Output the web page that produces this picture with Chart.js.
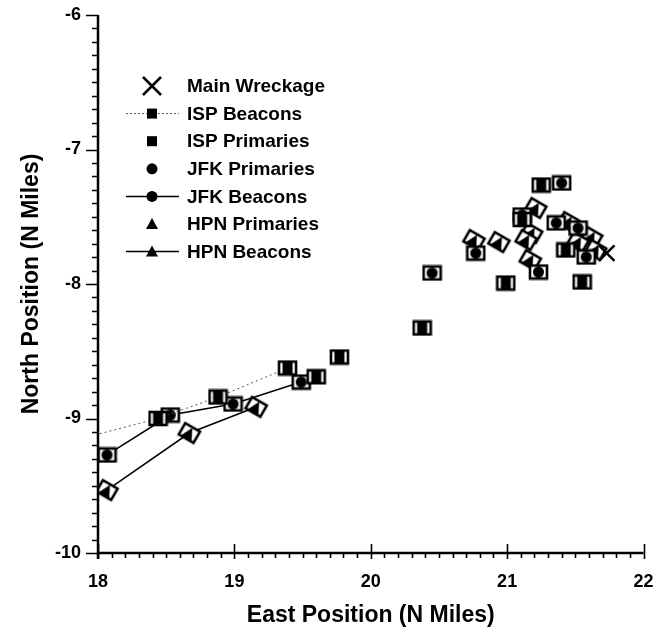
<!DOCTYPE html>
<html>
<head>
<meta charset="utf-8">
<script src="https://cdn.jsdelivr.net/npm/chart.js@4/dist/chart.umd.min.js"></script>
<style>
  body { margin: 0; background: #fff; }
  #wrap { width: 657px; height: 636px; }
</style>
</head>
<body>
<div id="wrap"><canvas id="chart" width="657" height="636"></canvas></div>
<script>
// tick labels
const xTicks = [18, 19, 20, 21, 22];
const yTicks = [-10, -9, -8, -7, -6];

// series values, [east, north]
const mainWreckage = [[21.73, -7.77]];
const ispBeacons = [[17.8, -9.17], [18.44, -9.0], [18.88, -8.84], [19.39, -8.625]];
const ispPrimaries = [[19.6, -8.69], [19.77, -8.543], [20.377, -8.327], [20.99, -7.993],
  [21.25, -7.264], [21.55, -7.985], [21.43, -7.747], [21.11, -7.52]];
const jfkPrimaries = [[20.45, -7.918], [20.77, -7.77], [21.11, -7.487], [21.4, -7.249],
  [21.36, -7.546], [21.52, -7.584], [21.58, -7.799], [21.23, -7.911]];
const jfkBeacons = [[18.066, -9.271], [18.53, -8.974], [18.99, -8.892], [19.49, -8.729]];
const hpnPrimaries = [[20.757, -7.673], [20.94, -7.688], [21.17, -7.822], [21.21, -7.435],
  [21.18, -7.621], [21.14, -7.673], [21.45, -7.539], [21.62, -7.651], [21.52, -7.688], [21.65, -7.747]];
const hpnBeacons = [[18.066, -9.532], [18.67, -9.108], [19.16, -8.914]];

const FONT = "'Liberation Sans', Arial, sans-serif";

function pts(arr) {
    return arr.map(p => ({ x: p[0], y: p[1] }));
}

// open box with a filled marker inside, as on the plotted tracks
function makeMarker(shape) {
    const c = document.createElement('canvas');
    c.width = 21; c.height = 17;
    const g = c.getContext('2d');
    g.fillStyle = '#fff';
    g.strokeStyle = '#000';
    g.lineWidth = 2.6;
    g.fillRect(2, 2, 17, 13);
    g.strokeRect(2, 2, 17, 13);
    g.fillStyle = '#000';
    g.beginPath();
    if (shape === 'rect') {
        g.rect(5.5, 3, 10, 11);
    } else if (shape === 'circle') {
        g.arc(10.5, 8.5, 5.5, 0, Math.PI * 2);
    } else {
        g.moveTo(10.5, 2.5); g.lineTo(16.5, 14.5); g.lineTo(4.5, 14.5); g.closePath();
    }
    g.fill();
    return c;
}

const squareMark = makeMarker('rect');
const circleMark = makeMarker('circle');
const triMark = makeMarker('triangle');

const datasets = [
    { label: 'Main Wreckage', data: pts(mainWreckage), showLine: false, pointStyle: 'crossRot',
      pointRadius: 11, borderColor: '#000', borderWidth: 2.5, legendShape: 'cross' },
    { label: 'ISP Beacons', data: pts(ispBeacons), showLine: true, pointStyle: squareMark,
      borderColor: '#555', borderWidth: 1, borderDash: [2, 3], clip: 0, legendShape: 'rect', legendLine: 'dot' },
    { label: 'ISP Primaries', data: pts(ispPrimaries), showLine: false, pointStyle: squareMark,
      legendShape: 'rect' },
    { label: 'JFK Primaries', data: pts(jfkPrimaries), showLine: false, pointStyle: circleMark,
      legendShape: 'circle' },
    { label: 'JFK Beacons', data: pts(jfkBeacons), showLine: true, pointStyle: circleMark,
      borderColor: '#000', borderWidth: 1.5, legendShape: 'circle', legendLine: 'solid' },
    { label: 'HPN Primaries', data: pts(hpnPrimaries), showLine: false, pointStyle: triMark,
      pointRotation: 30, legendShape: 'triangle' },
    { label: 'HPN Beacons', data: pts(hpnBeacons), showLine: true, pointStyle: triMark,
      pointRotation: 30, borderColor: '#000', borderWidth: 1.5, legendShape: 'triangle', legendLine: 'solid' }
];

// axes with tick marks and the in-plot legend
const decorPlugin = {
    id: 'decor',
    afterDraw(chart) {
        const ctx = chart.ctx;
        const xs = chart.scales.x, ys = chart.scales.y;
        const area = chart.chartArea;
        ctx.save();
        ctx.strokeStyle = '#000';
        ctx.lineCap = 'butt';

        // axis lines
        ctx.lineWidth = 2.5;
        ctx.beginPath();
        ctx.moveTo(area.left, area.top);
        ctx.lineTo(area.left, area.bottom + 6);
        ctx.moveTo(area.left - 1, area.bottom);
        ctx.lineTo(area.right, area.bottom);
        ctx.stroke();

        // x ticks
        ctx.lineWidth = 1.6;
        ctx.beginPath();
        for (let i = 0; i <= 40; i++) {
            const v = 18 + i / 10;
            const px = Math.round(xs.getPixelForValue(v)) + 0.5;
            if (i % 10 === 0) {
                ctx.moveTo(px, area.bottom - 9);
                ctx.lineTo(px, area.bottom + 6);
            } else {
                ctx.moveTo(px, area.bottom);
                ctx.lineTo(px, area.bottom + 5);
            }
        }
        // y ticks
        for (let i = 0; i <= 40; i++) {
            const v = -10 + i / 10;
            const py = Math.round(ys.getPixelForValue(v)) + 0.5;
            if (i % 10 === 0) {
                ctx.moveTo(area.left - 12, py);
                ctx.lineTo(area.left, py);
            } else {
                ctx.moveTo(area.left - 6, py);
                ctx.lineTo(area.left, py);
            }
        }
        ctx.stroke();

        // legend
        const mx = 152, tx = 187;
        let y = 86;
        ctx.font = 'bold 19px ' + FONT;
        ctx.textBaseline = 'middle';
        ctx.textAlign = 'left';
        chart.data.datasets.forEach(ds => {
            ctx.strokeStyle = '#000';
            if (ds.legendLine) {
                ctx.lineWidth = ds.legendLine === 'dot' ? 1 : 1.5;
                ctx.strokeStyle = ds.legendLine === 'dot' ? '#555' : '#000';
                ctx.setLineDash(ds.legendLine === 'dot' ? [2, 2] : []);
                ctx.beginPath();
                ctx.moveTo(mx - 26, y);
                ctx.lineTo(mx + 27, y);
                ctx.stroke();
                ctx.setLineDash([]);
            }
            ctx.fillStyle = '#000';
            ctx.strokeStyle = '#000';
            ctx.beginPath();
            if (ds.legendShape === 'cross') {
                ctx.lineWidth = 2.5;
                ctx.moveTo(mx - 9, y - 9); ctx.lineTo(mx + 9, y + 9);
                ctx.moveTo(mx + 9, y - 9); ctx.lineTo(mx - 9, y + 9);
                ctx.stroke();
            } else if (ds.legendShape === 'rect') {
                ctx.rect(mx - 5, y - 5, 10, 10);
                ctx.fill();
            } else if (ds.legendShape === 'circle') {
                ctx.arc(mx, y, 5.5, 0, Math.PI * 2);
                ctx.fill();
            } else {
                ctx.moveTo(mx, y - 6); ctx.lineTo(mx + 6, y + 5); ctx.lineTo(mx - 6, y + 5);
                ctx.closePath();
                ctx.fill();
            }
            ctx.fillText(ds.label, tx, y + 1);
            y += 27.6;
        });
        ctx.restore();
    }
};

new Chart(document.getElementById('chart'), {
    type: 'scatter',
    data: { datasets: datasets },
    options: {
        responsive: false,
        animation: false,
        layout: { padding: { top: 15, right: 12, left: 0, bottom: 0 } },
        elements: {
            point: { radius: 8, hoverRadius: 8, backgroundColor: '#000', borderColor: '#000' },
            line: { tension: 0 }
        },
        plugins: {
            legend: { display: false },
            tooltip: { enabled: false }
        },
        scales: {
            x: {
                type: 'linear', min: 18, max: 22,
                afterBuildTicks: s => { s.ticks = xTicks.map(v => ({ value: v })); },
                afterFit: s => { s.height = 83; s.paddingLeft = 0; s.paddingRight = 0; },
                grid: { display: false, drawTicks: false },
                border: { display: false },
                ticks: { color: '#000', padding: 18, font: { family: FONT, size: 18, weight: 'bold' } },
                title: { display: true, text: 'East Position (N Miles)', color: '#000',
                    padding: { top: 0, bottom: 7 }, font: { family: FONT, size: 23, weight: 'bold' } }
            },
            y: {
                type: 'linear', min: -10, max: -6,
                afterBuildTicks: s => { s.ticks = yTicks.map(v => ({ value: v })); },
                afterFit: s => { s.width = 98; s.paddingTop = 0; s.paddingBottom = 0; },
                grid: { display: false, drawTicks: false },
                border: { display: false },
                ticks: { color: '#000', padding: 17, font: { family: FONT, size: 18, weight: 'bold' } },
                title: { display: true, text: 'North Position (N Miles)', color: '#000',
                    padding: { top: 18, bottom: 0 }, font: { family: FONT, size: 23, weight: 'bold' } }
            }
        }
    },
    plugins: [decorPlugin]
});
</script>
</body>
</html>
